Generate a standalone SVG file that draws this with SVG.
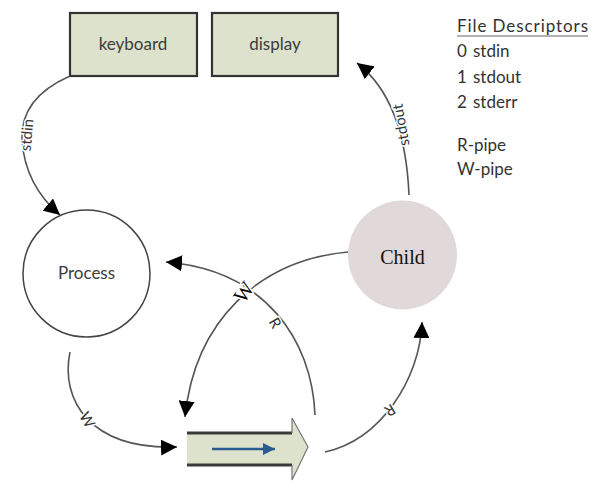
<svg xmlns="http://www.w3.org/2000/svg" width="599" height="496" viewBox="0 0 599 496">
<style>
.box{fill:#dde2cd;stroke:#333;stroke-width:2.2}
.lbl{font-family:Lato,"Open Sans","Liberation Sans",sans-serif;fill:#3c3c3c;text-anchor:middle}
.leg{font-family:Lato,"Open Sans","Liberation Sans",sans-serif;font-size:17px;fill:#333}
.conn{fill:none;stroke:#555;stroke-width:1.6}
.al{font-family:Lato,"Open Sans","Liberation Sans",sans-serif;font-size:15px;fill:#333;text-anchor:middle;stroke:#fff;stroke-width:3;paint-order:stroke}
.sl{font-family:"Liberation Serif",serif;font-size:21px;fill:#000;text-anchor:middle;stroke:#fff;stroke-width:3;paint-order:stroke}
</style>
<defs>
<marker id="ah" markerUnits="userSpaceOnUse" markerWidth="16" markerHeight="16" refX="14" refY="7" orient="auto" viewBox="0 0 14 14">
<path d="M0,0 L14,7 L0,14 z" fill="#000"/>
</marker>
<marker id="bh" markerUnits="userSpaceOnUse" markerWidth="12" markerHeight="12" refX="10" refY="5" orient="auto" viewBox="0 0 10 10">
<path d="M0,0 L10,5 L0,10 z" fill="#2b5b8f"/>
</marker>
</defs>
<rect width="599" height="496" fill="#fff"/>

<g id="keyboard">
<rect class="box" x="70" y="13" width="127" height="63"/>
<text class="lbl" x="133" y="50" font-size="17">keyboard</text>
</g>
<g id="display">
<rect class="box" x="212" y="13" width="126" height="63"/>
<text class="lbl" x="275" y="50" font-size="17">display</text>
</g>
<g id="process">
<circle cx="86.5" cy="273.5" r="63.5" fill="#fff" stroke="#444" stroke-width="1.5"/>
<text class="lbl" x="86.5" y="279" font-size="17">Process</text>
</g>
<g id="child">
<circle cx="402.5" cy="255" r="54.5" fill="#e0d8d9"/>
<text x="402.5" y="264" font-family="'Liberation Serif',serif" font-size="20" fill="#111" text-anchor="middle">Child</text>
</g>
<g id="pipe">
<path d="M187,433 L292,433 L292,418 L308,447 L292,480 L292,465 L187,465 z" fill="#dde2cd"/>
<path d="M187,433 L292,433" stroke="#3a3a3a" stroke-width="3"/>
<path d="M187,465 L292,465" stroke="#3a3a3a" stroke-width="3"/>
<path d="M292,433 L292,418 L308,447 L292,480 L292,465" fill="none" stroke="#777" stroke-width="1.2"/>
<path d="M212,449 L275,449" stroke="#2b5b8f" stroke-width="2.5" marker-end="url(#bh)"/>
</g>
<g id="legend">
<text class="leg" x="457" y="32" textLength="131">File Descriptors</text>
<line x1="457" y1="36" x2="588" y2="36" stroke="#666" stroke-width="1"/>
<text class="leg" y="57"><tspan x="457">0</tspan><tspan x="473">stdin</tspan></text>
<text class="leg" y="83"><tspan x="457">1</tspan><tspan x="473">stdout</tspan></text>
<text class="leg" y="108"><tspan x="457">2</tspan><tspan x="473">stderr</tspan></text>
<text class="leg" x="457" y="151">R-pipe</text>
<text class="leg" x="457" y="175">W-pipe</text>
</g>

<g id="connectors">
<path class="conn" d="M70,76 Q20,98 22,140 Q25,185 60,215" marker-end="url(#ah)"/>
<path class="conn" d="M409,195 Q405,100 357,63" marker-end="url(#ah)"/>
<path class="conn" d="M348,252 C260,260 195,320 185,417" marker-end="url(#ah)"/>
<path class="conn" d="M315,415 C312,340 265,270 166,262" marker-end="url(#ah)"/>
<path class="conn" d="M70,352 C60,400 90,450 177,447" marker-end="url(#ah)"/>
<path class="conn" d="M325,452 C380,440 420,380 422,322" marker-end="url(#ah)"/>
<text class="al" transform="translate(27,135) rotate(-85)" y="5">stdin</text>
<text class="al" transform="translate(401,125) rotate(-100)" y="5">stdout</text>
<text class="sl" transform="translate(244,292) rotate(-55)" y="7">W</text>
<text class="al" transform="translate(275,323) rotate(60)" y="5">R</text>
<text class="al" transform="translate(87,420) rotate(60)" y="5">W</text>
<text class="al" transform="translate(390,410) rotate(150)" y="5">R</text>
</g>
</svg>
